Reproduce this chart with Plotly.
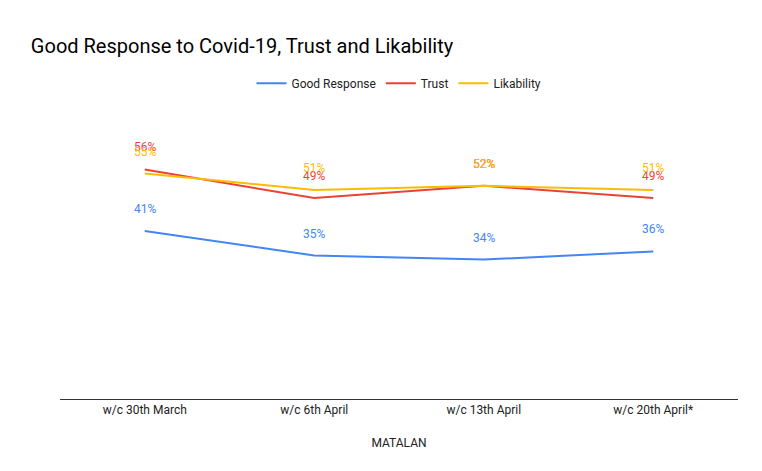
import plotly.graph_objs as go

weeks = ['w/c 30th March', 'w/c 6th April', 'w/c 13th April', 'w/c 20th April*']
good_response = [41, 35, 34, 36]
trust = [56, 49, 52, 49]
likability = [55, 51, 52, 51]

series = [
    ('Good Response', good_response, '#4285f4'),
    ('Trust', trust, '#ea4335'),
    ('Likability', likability, '#fbbc04'),
]

data = []
annotations = []
for name, vals, color in series:
    data.append(go.Scatter(
        x=weeks, y=vals, name=name, mode='lines',
        line=dict(color=color, width=2),
    ))
    # data labels sit ~22px above each point, like the original
    for wk, v in zip(weeks, vals):
        annotations.append(dict(
            x=wk, y=v, text=f'{v}%', showarrow=False, yshift=22,
            font=dict(color=color, size=12),
        ))

layout = go.Layout(
    width=762, height=471,
    title=dict(text='Good Response to Covid-19, Trust and Likability',
               x=0.03, xanchor='left', yref='container', y=0.92, yanchor='middle',
               font=dict(size=20, color='#000000')),
    font=dict(family='Roboto, sans-serif', color='#222222', size=12),
    legend=dict(orientation='h', x=0.5, xanchor='center', y=1.1, yanchor='middle',
                font=dict(size=12)),
    annotations=annotations,
    margin=dict(l=52, r=32, t=104, b=80),
    plot_bgcolor='white', paper_bgcolor='white',
    xaxis=dict(range=[-0.5, 3.5], showline=True, linecolor='#333333',
               showgrid=False, ticks='',
               title=dict(text='MATALAN', font=dict(size=12), standoff=22)),
    yaxis=dict(range=[0, 70], showgrid=False, showticklabels=False,
               zeroline=False, showline=False),
)

fig = go.Figure(data=data, layout=layout)
fig.write_html('out.html')
